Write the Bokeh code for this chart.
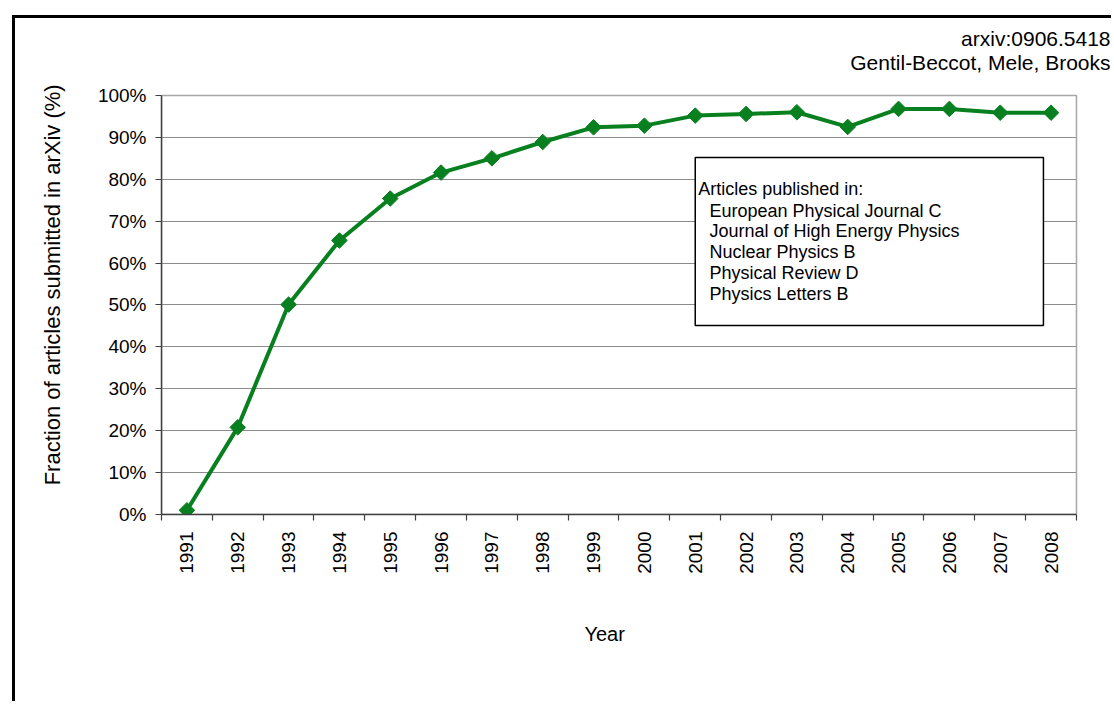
import math
from bokeh.plotting import figure
from bokeh.models import (Range1d, FixedTicker, PrintfTickFormatter, Label,
                          BoxAnnotation)
from bokeh.embed import file_html
from bokeh.resources import INLINE

years = [1991, 1992, 1993, 1994, 1995, 1996, 1997, 1998, 1999, 2000,
         2001, 2002, 2003, 2004, 2005, 2006, 2007, 2008]
fraction = [1.0, 20.8, 50.1, 65.4, 75.4, 81.6, 85.0, 88.9, 92.4, 92.8,
            95.2, 95.6, 96.0, 92.5, 96.8, 96.8, 95.9, 95.9]
y_ticks = [0, 10, 20, 30, 40, 50, 60, 70, 80, 90, 100]
legend_title = "Articles published in:"
journals = ["European Physical Journal C", "Journal of High Energy Physics",
            "Nuclear Physics B", "Physical Review D", "Physics Letters B"]
credit = ["arxiv:0906.5418", "Gentil-Beccot, Mele, Brooks"]
x_title = "Year"
y_title = "Fraction of articles submitted in arXiv (%)"

FONT = "Liberation Sans"
GREEN = "#08801f"
NBSP = "\u00a0"

X0, X1 = years[0] - 0.5, years[-1] + 0.5
Y0, Y1 = 0, 100

# the frame extends beyond the plot area so that the credit text fits inside it
p = figure(width=1099, height=686, output_backend="svg", toolbar_location=None,
           title=None,
           x_range=Range1d(X0, 2009.248), y_range=Range1d(Y0, 118.375),
           min_border_left=146, min_border_right=0,
           min_border_top=0, min_border_bottom=190)

# outer frame of the original chart (left and top edges)
p.styles = {"border-left": "3px solid black", "border-top": "3px solid black",
            "margin-left": "12px", "margin-top": "15px"}

p.background_fill_color = "white"
p.border_fill_color = "white"
p.outline_line_color = None

# plot-area border (grey)
p.add_layout(BoxAnnotation(left=X0, right=X1, bottom=Y0, top=Y1,
                           fill_alpha=0, line_color="#a6a6a6", line_alpha=1.0,
                           line_width=1.5, level="underlay"))

# x axis: labels at year centres, ticks at category boundaries
xt = FixedTicker(ticks=years, minor_ticks=[y - 0.5 for y in years] + [X1])
p.xaxis.ticker = xt
p.xaxis.bounds = (X0, X1)
p.xaxis.major_tick_line_color = None
p.xaxis.minor_tick_line_color = "#404040"
p.xaxis.minor_tick_out = 6
p.xaxis.minor_tick_in = 0
p.xaxis.minor_tick_line_width = 1.2
p.xaxis.major_label_orientation = math.pi / 2
p.xaxis.major_label_standoff = 11
p.xaxis.major_label_text_font = FONT
p.xaxis.major_label_text_font_size = "19px"
p.xaxis.major_label_text_color = "black"
p.xaxis.axis_line_color = "#404040"
p.xaxis.axis_line_width = 1.5
# trailing no-break spaces centre the visible title under the plot area
p.xaxis.axis_label = x_title + NBSP * 12
p.xaxis.axis_label_text_font = FONT
p.xaxis.axis_label_text_font_style = "normal"
p.xaxis.axis_label_text_font_size = "20px"
p.xaxis.axis_label_text_color = "black"
p.xaxis.axis_label_standoff = 46
p.xgrid.grid_line_color = None

# y axis
p.yaxis.ticker = FixedTicker(ticks=y_ticks, minor_ticks=[])
p.yaxis.bounds = (Y0, Y1)
p.yaxis.formatter = PrintfTickFormatter(format="%d%%")
p.yaxis.major_tick_out = 6
p.yaxis.major_tick_in = 0
p.yaxis.major_tick_line_color = "#404040"
p.yaxis.major_tick_line_width = 1.2
p.yaxis.minor_tick_line_color = None
p.yaxis.major_label_standoff = 9
p.yaxis.major_label_text_font = FONT
p.yaxis.major_label_text_font_size = "19px"
p.yaxis.major_label_text_color = "black"
p.yaxis.axis_line_color = "#404040"
p.yaxis.axis_line_width = 1.5
p.yaxis.axis_label = y_title + NBSP * 6
p.yaxis.axis_label_text_font = FONT
p.yaxis.axis_label_text_font_style = "normal"
p.yaxis.axis_label_text_font_size = "22px"
p.yaxis.axis_label_text_color = "black"
p.yaxis.axis_label_standoff = 30
p.ygrid.grid_line_color = "#8c8c8c"
p.ygrid.grid_line_width = 1.2
p.ygrid.bounds = (Y0, Y1)
p.ygrid.cross_bounds = (X0, X1)

# data
p.line(years, fraction, line_color=GREEN, line_width=4)
p.scatter(years, fraction, marker="square", size=11, angle=math.pi / 4,
          fill_color=GREEN, line_color=GREEN)

# legend-like text box
p.add_layout(BoxAnnotation(left=2001.0, right=2007.85, bottom=45.1, top=85.2,
                           fill_color="white", fill_alpha=1.0,
                           line_color="black", line_alpha=1.0, line_width=1.5))
p.add_layout(Label(x=2001.06, y=77.8, text=legend_title, text_font=FONT,
                   text_font_size="18px", text_baseline="middle",
                   text_color="black"))
for i, j in enumerate(journals):
    p.add_layout(Label(x=2001.28, y=72.55 - 5.0 * i, text=j, text_font=FONT,
                       text_font_size="18px", text_baseline="middle",
                       text_color="black"))

# credit lines (top right)
for i, c in enumerate(credit):
    p.add_layout(Label(x=2009.17, y=113.6 - 5.8 * i, text=c, text_font=FONT,
                       text_font_size="21px", text_baseline="middle",
                       text_align="right", text_color="black"))

open("out.html", "w").write(file_html(p, INLINE))
